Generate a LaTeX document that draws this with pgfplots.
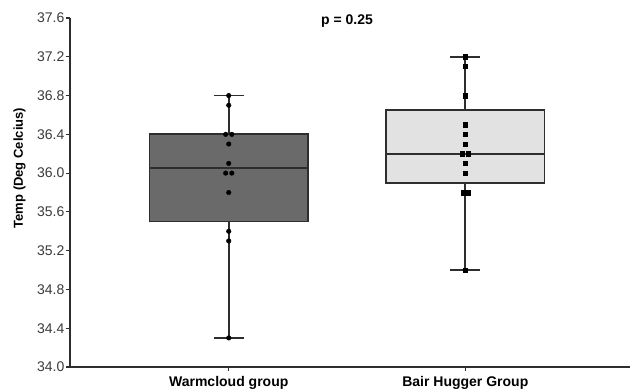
\documentclass[border=0pt]{standalone}
\usepackage{fontspec}
\setmainfont{Liberation Sans}
\usepackage{pgfplots}
\pgfplotsset{compat=1.18}
\definecolor{axgray}{HTML}{2E2E2E}
\definecolor{txtgray}{HTML}{3A3A3A}
\definecolor{darkbox}{HTML}{6A6A6A}
\definecolor{lightbox}{HTML}{E2E2E2}
\begin{document}
\begin{tikzpicture}[x=1pt,y=1pt]
\path[use as bounding box] (-70,-22) rectangle (560,367);
\begin{axis}[
  anchor=south west, at={(0,0)},
  scale only axis, width=560pt, height=349pt,
  xmin=-0.671, xmax=1.696, ymin=34.0, ymax=37.6,
  axis lines=left, axis line style={-, axgray, line width=1.6pt},
  ytick={34.0,34.4,...,37.7},
  xtick={0,1}, xticklabels={Warmcloud group, Bair Hugger Group},
  tick align=outside, tick pos=left, major tick length=4pt,
  tick style={axgray, line width=1.2pt},
  /pgf/number format/assume math mode=true,
  yticklabel={\pgfmathprintnumber[fixed,precision=1,zerofill]{\tick}},
  yticklabel style={font=\fontsize{14}{16}\selectfont, text=txtgray, inner sep=1.5pt},
  xticklabel style={font=\fontsize{14}{16}\selectfont\bfseries, text=black, inner sep=2pt, yshift=-3pt},
  ylabel={Temp (Deg Celcius)},
  ylabel style={font=\fontsize{13}{15}\selectfont\bfseries, at={(axis description cs:-0.09,0.57)}, anchor=center},
  clip=false,
  every axis plot/.append style={line width=1.7pt},
]
% Warmcloud box
\addplot[fill=darkbox, draw=axgray] coordinates {(-0.335,35.5) (0.335,35.5) (0.335,36.4) (-0.335,36.4)} -- cycle;
\addplot[axgray] coordinates {(-0.335,36.05) (0.335,36.05)};
\addplot[axgray] coordinates {(0,36.4) (0,36.8)};
\addplot[axgray] coordinates {(0,35.5) (0,34.3)};
\addplot[axgray] coordinates {(-0.064,36.8) (0.064,36.8)};
\addplot[axgray] coordinates {(-0.064,34.3) (0.064,34.3)};
% Bair Hugger box
\addplot[fill=lightbox, draw=axgray] coordinates {(0.665,35.9) (1.335,35.9) (1.335,36.65) (0.665,36.65)} -- cycle;
\addplot[axgray] coordinates {(0.665,36.2) (1.335,36.2)};
\addplot[axgray] coordinates {(1,36.65) (1,37.2)};
\addplot[axgray] coordinates {(1,35.9) (1,35.0)};
\addplot[axgray] coordinates {(0.936,37.2) (1.064,37.2)};
\addplot[axgray] coordinates {(0.936,35.0) (1.064,35.0)};
% points
\addplot[only marks, mark=*, mark size=2.3pt, black, line width=0.4pt] coordinates {
 (0,36.8) (0,36.7) (-0.013,36.4) (0.013,36.4) (0,36.3) (0,36.1)
 (-0.013,36.0) (0.013,36.0) (0,35.8) (0,35.4) (0,35.3) (0,34.3)};
\addplot[only marks, mark=square*, mark size=2.2pt, black, line width=0.4pt] coordinates {
 (1,37.2) (1,37.1) (1,36.8) (1,36.5) (1,36.4) (1,36.3) (0.987,36.2) (1.013,36.2)
 (1,36.1) (1,36.0) (0.99,35.8) (1.01,35.8) (1,35.0)};
\node[font=\fontsize{14}{16}\selectfont\bfseries] at (axis cs:0.5,37.57) {p = 0.25};
\end{axis}
\end{tikzpicture}
\end{document}
